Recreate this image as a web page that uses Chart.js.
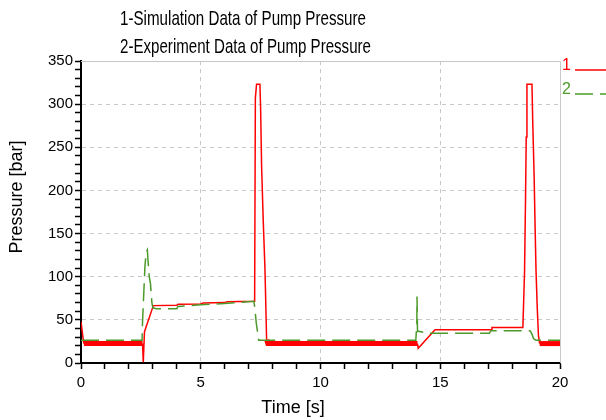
<!DOCTYPE html>
<html>
<head>
<meta charset="utf-8">
<script src="https://cdn.jsdelivr.net/npm/chart.js@4.4.1/dist/chart.umd.min.js"></script>
<style>
  html, body { margin: 0; padding: 0; background: #fff; }
</style>
</head>
<body>
<canvas id="myChart" width="606" height="420"></canvas>
<script>
// 1 - simulation
const simTime = [0, 0.08, 0.12, 2.57, 2.6, 2.65, 2.72, 3.02, 4.0, 4.05, 5.0, 5.1, 6.0, 6.1, 7.25, 7.28, 7.33, 7.47, 7.5, 7.54, 7.61, 7.68, 7.71, 7.75, 7.8, 14.05, 14.08, 14.78, 17.12, 17.16, 18.45, 18.52, 18.56, 18.59, 18.62, 18.83, 18.86, 18.92, 18.96, 19.0, 19.05, 19.1, 19.15, 20];
const simPressure = [48, 30, 22.5, 22.5, 1, 36, 42, 66.5, 67, 68, 68.5, 69.5, 70, 71, 71.5, 307, 323, 323, 295, 229, 164, 110, 75, 27, 22.5, 22.5, 17, 38.5, 38.5, 41, 41, 106, 189, 262, 323, 323, 281, 216, 158, 106, 64, 32, 22.5, 22.5];

// 2 - experiment
const expTime = [0, 2.55, 2.57, 2.62, 2.67, 2.72, 2.77, 2.8, 2.85, 2.9, 2.96, 3.0, 3.15, 4.0, 4.05, 5.0, 6.0, 7.22, 7.27, 7.32, 7.37, 7.42, 13.98, 14.0, 14.02, 14.03, 14.05, 14.5, 17.05, 17.12, 18.75, 18.82, 18.9, 19.0, 20];
const expPressure = [26.5, 26.5, 48, 80, 112, 128, 131, 118, 100, 92, 70, 64, 63, 63, 65.5, 67.5, 69, 71.5, 60, 46, 36, 26.5, 26.5, 36, 36, 77, 37, 34.5, 34.5, 37.5, 37.5, 34, 28, 26.5, 26.5];

const xTicks = [0, 5, 10, 15, 20];
const yTicks = [0, 50, 100, 150, 200, 250, 300, 350];
const seriesLabels = ['1', '2'];
const titleLines = ['1-Simulation Data of Pump Pressure', '2-Experiment Data of Pump Pressure'];
const xTitle = 'Time [s]';
const yTitle = 'Pressure [bar]';

const RED = '#ff0000';
const GREEN = '#4c9a2a';
const GRID = '#c8c8c8';
const FONT = "'Liberation Sans', Arial, sans-serif";

Chart.defaults.font.family = FONT;
Chart.defaults.color = '#000';

const toPoints = (xs, ys) => xs.map((x, i) => ({ x, y: ys[i] }));
const inBand = (v) => v >= 18 && v <= 28;

const decor = {
  id: 'decor',
  beforeDatasetsDraw(chart) {
    const { ctx, chartArea: a } = chart;
    ctx.save();
    ctx.strokeStyle = GRID;
    ctx.lineWidth = 1;
    ctx.beginPath();
    ctx.moveTo(a.left, a.top + 0.5);
    ctx.lineTo(a.right + 0.5, a.top + 0.5);
    ctx.lineTo(a.right + 0.5, a.bottom);
    ctx.stroke();
    ctx.restore();
  },
  afterDraw(chart) {
    const { ctx } = chart;
    ctx.save();
    ctx.fillStyle = '#000';
    ctx.textBaseline = 'middle';
    // title, left aligned and narrow
    ctx.font = '21px ' + FONT;
    ctx.textAlign = 'left';
    ctx.fillText(titleLines[0], 120, 19, 246);
    ctx.fillText(titleLines[1], 120, 47, 251);
    // axis titles
    ctx.font = '18px ' + FONT;
    ctx.textAlign = 'center';
    ctx.fillText(xTitle, 293, 408);
    ctx.save();
    ctx.translate(17, 197);
    ctx.rotate(-Math.PI / 2);
    ctx.fillText(yTitle, 0, 0);
    ctx.restore();
    // legend, in series order
    ctx.font = '16px ' + FONT;
    ctx.textAlign = 'left';
    seriesLabels.forEach((label, i) => {
      const ds = chart.data.datasets.find((d) => d.label === label);
      const y = 66 + i * 24;
      ctx.fillStyle = ds.borderColor;
      ctx.fillText(label, 562, y);
      ctx.strokeStyle = ds.borderColor;
      ctx.lineWidth = 1.5;
      ctx.setLineDash(ds.borderDash || []);
      ctx.beginPath();
      ctx.moveTo(575, y + 4);
      ctx.lineTo(606, y + 4);
      ctx.stroke();
    });
    ctx.restore();
  },
};

const gridColor = (ends) => (c) => {
  const v = c.tick ? c.tick.value : null;
  return v !== null && v % ends.step === 0 && v !== ends.min && v !== ends.max ? GRID : 'rgba(0,0,0,0)';
};

const ctx = document.getElementById('myChart').getContext('2d');
window.myChart = new Chart(ctx, {
  type: 'line',
  data: {
    datasets: [
      {
        label: seriesLabels[1],
        data: toPoints(expTime, expPressure),
        borderColor: GREEN,
        borderWidth: 1.5,
        borderDash: [18, 7],
        pointRadius: 0,
        tension: 0,
      },
      {
        label: seriesLabels[0],
        data: toPoints(simTime, simPressure),
        borderColor: RED,
        borderWidth: 1.5,
        pointRadius: 0,
        tension: 0,
        segment: {
          borderWidth: (c) => (inBand(c.p0.parsed.y) && inBand(c.p1.parsed.y) ? 5 : 1.5),
        },
      },
    ],
  },
  options: {
    responsive: false,
    animation: false,
    layout: { padding: { top: 61, right: 46, left: 0, bottom: 0 } },
    plugins: { legend: { display: false }, title: { display: false }, tooltip: { enabled: false } },
    scales: {
      x: {
        type: 'linear',
        min: xTicks[0],
        max: xTicks[xTicks.length - 1],
        afterFit: (s) => { s.height = 57; },
        ticks: {
          stepSize: 1,
          autoSkip: false,
          maxRotation: 0,
          padding: 5,
          font: { size: 15 },
          callback: (v) => (xTicks.includes(v) ? v : ''),
        },
        grid: { color: gridColor({ step: 5, min: 0, max: 20 }), tickColor: '#000', tickWidth: 1.5, tickLength: 6 },
        border: { color: '#000', width: 2, dash: [4, 4] },
      },
      y: {
        min: yTicks[0],
        max: yTicks[yTicks.length - 1],
        afterFit: (s) => { s.width = 81; },
        ticks: {
          stepSize: 10,
          autoSkip: false,
          padding: 2,
          font: { size: 15 },
          callback: (v) => (yTicks.includes(v) ? v : ''),
        },
        grid: { color: gridColor({ step: 50, min: 0, max: 350 }), tickColor: '#000', tickWidth: 1.5, tickLength: 6 },
        border: { color: '#000', width: 2, dash: [4, 4] },
      },
    },
  },
  plugins: [decor],
});
</script>
</body>
</html>
